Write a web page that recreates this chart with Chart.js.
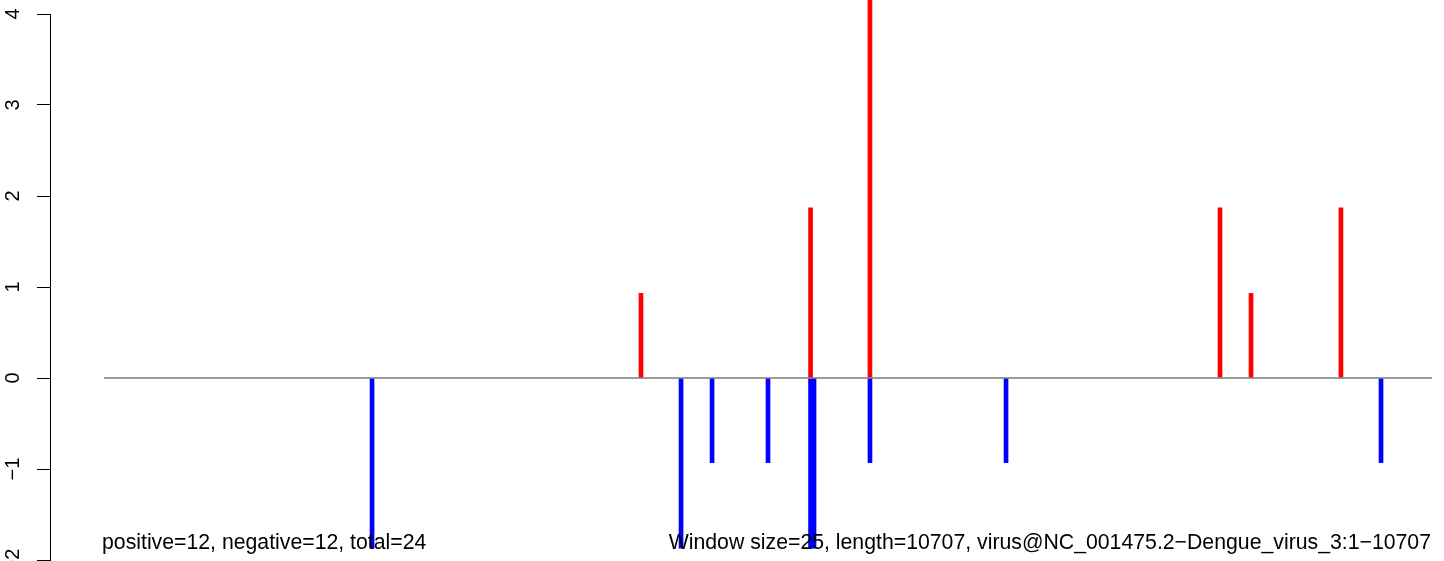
<!DOCTYPE html>
<html>
<head>
<meta charset="utf-8">
<title>Window plot</title>
<script src="https://cdn.jsdelivr.net/npm/chart.js@4/dist/chart.umd.min.js"></script>
<style>
    html, body { margin: 0; padding: 0; background: #fff; }
    #plot { display: block; }
</style>
</head>
<body>
<canvas id="plot" width="1444" height="561"></canvas>
<script>
// ----------------------------Data----------------------------

const seqStart = 1;
const seqEnd = 10707;

// positive windows (red spikes)
const posPositions = [4330, 5697, 6176, 8998, 9248, 9973];
const posValues = [0.93, 1.87, 4.67, 1.87, 0.93, 1.87];

// negative windows (blue spikes)
const negPositions = [2162, 4653, 4903, 5354, 5697, 5725, 6176, 7273, 10296];
const negValues = [-1.87, -1.87, -0.93, -0.93, -1.87, -1.87, -0.93, -0.93, -0.93];

const yTicks = [-2, -1, 0, 1, 2, 3, 4];
const yTickLabels = ['\u22122', '\u22121', '0', '1', '2', '3', '4'];

const leftNote = 'positive=12, negative=12, total=24';
const rightNote = 'Window size=25, length=10707, virus@NC_001475.2\u2212Dengue_virus_3:1\u221210707';

// axis limits
const xMin = -434.3;
const xMax = 10803.7;

// ----------------------------Chart----------------------------

Chart.defaults.font.family = 'Liberation Sans';
Chart.defaults.color = '#000';

function toPoints(xs, ys) {
    return xs.map((x, i) => ({ x: x, y: ys[i] }));
}

// bottom text lines, placed against the sequence ends
const notesPlugin = {
    id: 'notes',
    afterDraw(chart) {
        const ctx = chart.ctx;
        const xs = chart.scales.x;
        ctx.save();
        ctx.fillStyle = '#000';
        ctx.font = '21.25px "Liberation Sans", Arial, sans-serif';
        ctx.textBaseline = 'alphabetic';
        ctx.textAlign = 'left';
        ctx.fillText(leftNote, xs.getPixelForValue(seqStart) - 2, 549);
        ctx.textAlign = 'right';
        ctx.fillText(rightNote, xs.getPixelForValue(seqEnd) - 1, 549);
        ctx.restore();
    }
};

document.addEventListener('DOMContentLoaded', function() {
    const ctx = document.getElementById('plot');

    new Chart(ctx, {
        type: 'bar',
        data: {
            datasets: [
                {
                    type: 'line',
                    data: toPoints([seqStart, seqEnd], [0, 0]),
                    borderColor: '#7a7a7a',
                    borderWidth: 1.3,
                    pointRadius: 0,
                    order: 0
                },
                {
                    data: toPoints(posPositions, posValues),
                    backgroundColor: '#ff0000',
                    barThickness: 4,
                    clip: false,
                    order: 1
                },
                {
                    data: toPoints(negPositions, negValues),
                    backgroundColor: '#0000ff',
                    barThickness: 4,
                    clip: false,
                    order: 1
                }
            ]
        },
        options: {
            responsive: false,
            devicePixelRatio: 1,
            animation: false,
            grouped: false,
            layout: { padding: { top: 14, bottom: 1, left: 0, right: 0 } },
            plugins: {
                legend: { display: false },
                tooltip: { enabled: false }
            },
            scales: {
                x: {
                    type: 'linear',
                    min: xMin,
                    max: xMax,
                    offset: false,
                    display: false
                },
                y: {
                    type: 'linear',
                    min: -2,
                    max: 4,
                    afterBuildTicks: axis => {
                        axis.ticks = yTicks.map(v => ({ value: v }));
                    },
                    afterFit: axis => {
                        axis.width = 50;
                        axis.paddingTop = 0;
                        axis.paddingBottom = 0;
                    },
                    border: { display: true, color: '#000', width: 1 },
                    grid: {
                        drawOnChartArea: false,
                        drawTicks: true,
                        tickLength: 13,
                        color: '#000',
                        lineWidth: 1
                    },
                    ticks: {
                        minRotation: 90,
                        maxRotation: 90,
                        crossAlign: 'center',
                        padding: 12,
                        color: '#000',
                        font: { family: 'Liberation Sans', size: 20 },
                        callback: (value) => {
                            const i = yTicks.indexOf(value);
                            return i >= 0 ? yTickLabels[i] : '';
                        }
                    }
                }
            }
        },
        plugins: [notesPlugin]
    });
});
</script>
</body>
</html>
